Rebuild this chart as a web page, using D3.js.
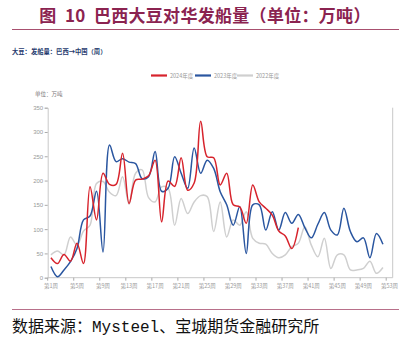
<!DOCTYPE html>
<html><head><meta charset="utf-8">
<script src="https://cdn.jsdelivr.net/npm/d3@7"></script>
<style>body{margin:0;background:#fff}svg{display:block}</style>
</head><body><svg id="c" width="412" height="344"></svg>
<script>
const weeks = d3.range(1, 54).map(i => "第" + i + "周");
const xTickLabels = ["第1周","第5周","第9周","第13周","第17周","第21周","第25周","第29周","第33周","第37周","第41周","第45周","第49周","第53周"];
const yTicks = [0, 50, 100, 150, 200, 250, 300, 350];
const seriesNames = ["2024年度", "2023年度", "2022年度"];
const seriesColors = ["#d7232c", "#2a56a0", "#cfcfcf"];
const v2024 = [41,29,48,34,71,29,187,119,215,192,192,256,153,201,203,210,242,115,199,188,247,180,195,322,249,247,191,215,150,146,112,191,156,143,129,96,86,60,103];
const v2023 = [23,2,16,33,60,119,127,178,53,273,239,245,238,235,204,208,260,178,184,249,215,184,267,215,242,225,177,150,108,146,50,150,150,98,136,98,134,112,130,103,82,110,134,98,88,143,95,74,82,41,91,69];
const v2022 = [47,55,47,84,67,96,108,194,198,176,169,208,151,215,222,165,156,187,184,108,163,132,156,169,167,95,156,84,119,108,136,81,71,69,50,41,47,64,71,105,67,43,81,19,47,47,16,16,19,34,9,21];

const svg = d3.select("#c");
const CJK = '"Noto Sans CJK SC", "Noto Sans", sans-serif';

// title
svg.append("text").attr("x", 205).attr("y", 22).attr("text-anchor", "middle")
  .attr("font-family", CJK).attr("font-weight", "bold").attr("font-size", 17)
  .attr("letter-spacing", 0.3).style("white-space", "pre")
  .attr("fill", "#8b2350").text("图  10  巴西大豆对华发船量（单位：万吨）");
svg.append("line").attr("x1", 12).attr("x2", 399).attr("y1", 29.5).attr("y2", 29.5)
  .attr("stroke", "#a8506f").attr("stroke-width", 1);
svg.append("text").attr("x", 12).attr("y", 53.5)
  .attr("font-family", CJK).attr("font-weight", "bold").attr("font-size", 6.3)
  .attr("fill", "#1f3a6e").text("大豆：发船量：巴西→中国（周）");

const x = d3.scaleBand().domain(weeks).range([47.7, 392.7]).padding(0);
const cx = w => x(w) + x.bandwidth() / 2;
const y = d3.scaleLinear().domain([0, 350]).range([277.7, 107.7]);

// unit label
svg.append("text").attr("x", 35).attr("y", 95.5)
  .attr("font-family", CJK).attr("font-size", 5.5).attr("fill", "#777").text("单位：万吨");

// y axis
const yAxis = svg.append("g").attr("transform", "translate(47.7,0)")
  .call(d3.axisLeft(y).tickValues(yTicks).tickSize(3).tickPadding(1.5));
yAxis.select(".domain").attr("stroke", "#c8c8c8");
yAxis.selectAll(".tick line").attr("stroke", "#aaa");
yAxis.selectAll(".tick text").attr("font-family", '"Liberation Sans Narrow", "Liberation Sans", sans-serif')
  .attr("font-size", 6).attr("fill", "#999");

// x axis
const xg = svg.append("g").attr("transform", "translate(0,277.7)");
xg.append("line").attr("x1", 47.7).attr("x2", 392.7).attr("stroke", "#c8c8c8");
xg.selectAll("line.t").data(xTickLabels).join("line").attr("class", "t")
  .attr("x1", d => x(d)).attr("x2", d => x(d)).attr("y1", 0).attr("y2", 3).attr("stroke", "#aaa");
xg.selectAll("text").data(xTickLabels).join("text")
  .attr("x", d => cx(d)).attr("y", 10).attr("text-anchor", "middle")
  .attr("font-family", CJK).attr("font-size", 5.5).attr("fill", "#999").text(d => d);
// right border
svg.append("line").attr("x1", 392.7).attr("x2", 392.7).attr("y1", y(350)).attr("y2", y(0))
  .attr("stroke", "#c8c8c8");

// lines
const line = d3.line().x((d, i) => cx(weeks[i])).y(d => y(d)).curve(d3.curveCatmullRom.alpha(0.5));
const data = [v2022, v2023, v2024];
const cols = [seriesColors[2], seriesColors[1], seriesColors[0]];
data.forEach((s, k) => {
  svg.append("path").datum(s).attr("d", line).attr("fill", "none")
    .attr("stroke", cols[k]).attr("stroke-width", 1.5);
});

// legend
const lx = [151, 195, 237];
seriesNames.forEach((n, i) => {
  svg.append("line").attr("x1", lx[i]).attr("x2", lx[i] + 16).attr("y1", 75.5).attr("y2", 75.5)
    .attr("stroke", seriesColors[i]).attr("stroke-width", 2.2);
  svg.append("text").attr("x", lx[i] + 19).attr("y", 77.5)
    .attr("font-family", CJK).attr("font-size", 5.5).attr("fill", "#999").text(n);
});

// footer
svg.append("line").attr("x1", 12).attr("x2", 399).attr("y1", 309.5).attr("y2", 309.5)
  .attr("stroke", "#b8708a").attr("stroke-width", 1);
svg.append("text").attr("x", 12).attr("y", 332)
  .attr("font-family", '"Liberation Mono", "Noto Sans CJK SC", monospace').attr("font-size", 16)
  .attr("fill", "#111").text("数据来源：Mysteel、宝城期货金融研究所");
</script></body></html>
